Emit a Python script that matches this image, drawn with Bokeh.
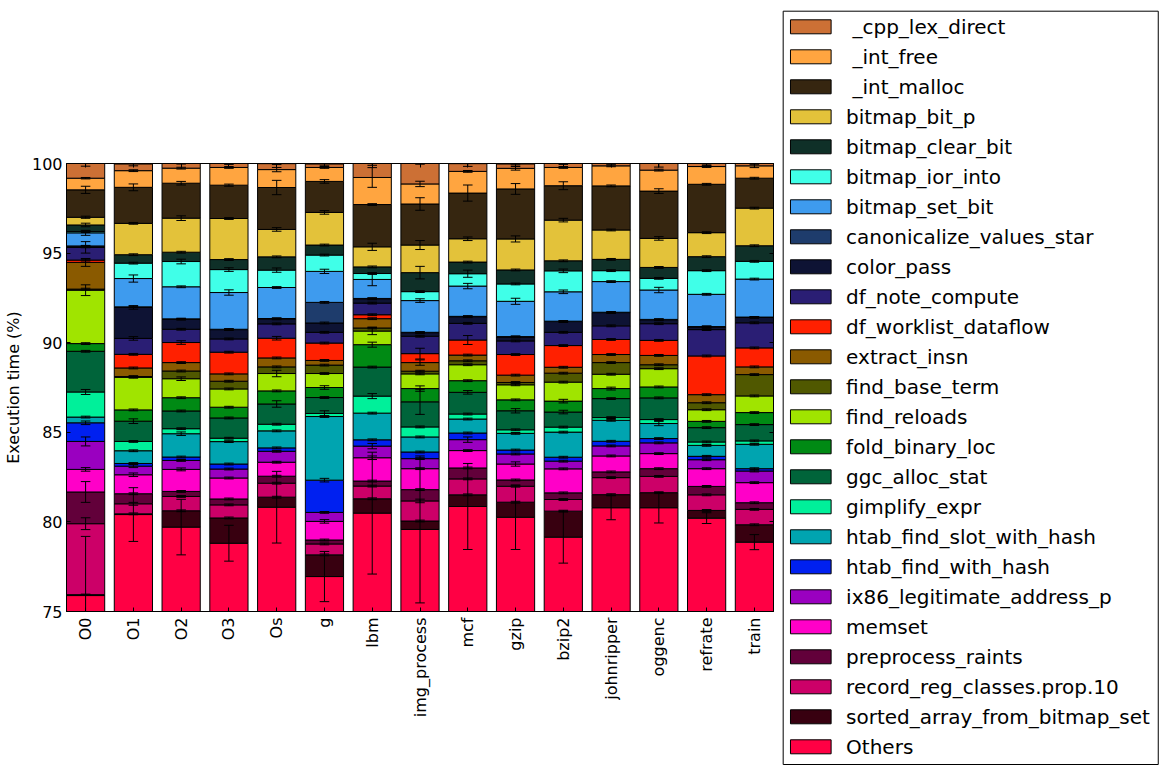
import math
import numpy as np
from bokeh.plotting import figure
from bokeh.models import Range1d, FixedTicker, LinearAxis, ColumnDataSource
from bokeh.embed import file_html
from bokeh.resources import INLINE
from bokeh.core.properties import value

# ---------------- data ----------------
benchmarks = ["O0", "O1", "O2", "O3", "Os", "g", "lbm", "img_process", "mcf",
              "gzip", "bzip2", "johnripper", "oggenc", "refrate", "train"]

# stacking order, bottom -> top
series_names = ["Others", "sorted_array_from_bitmap_set", "record_reg_classes.prop.10",
                "preprocess_raints", "memset", "ix86_legitimate_address_p",
                "htab_find_with_hash", "htab_find_slot_with_hash", "gimplify_expr",
                "ggc_alloc_stat", "fold_binary_loc", "find_reloads", "find_base_term",
                "extract_insn", "df_worklist_dataflow", "df_note_compute", "color_pass",
                "canonicalize_values_star", "bitmap_set_bit", "bitmap_ior_into",
                "bitmap_clear_bit", "bitmap_bit_p", " _int_malloc", " _int_free",
                " _cpp_lex_direct"]

others       = [75.89, 80.41, 79.71, 78.81, 80.82, 76.95, 80.49, 79.58, 80.86, 80.26, 79.15, 80.79, 80.79, 80.21, 78.87]
sorted_array = [0.05, 0.04, 0.91, 1.41, 0.56, 1.21, 0.80, 0.47, 0.65, 0.84, 1.45, 0.73, 0.84, 0.43, 0.97]
record_reg   = [3.96, 0.56, 0.80, 0.73, 0.78, 0.61, 0.71, 1.12, 0.89, 0.89, 0.65, 0.95, 0.91, 0.87, 0.86]
preprocess   = [1.77, 0.56, 0.28, 0.33, 0.39, 0.22, 0.28, 0.63, 0.61, 0.35, 0.37, 0.32, 0.43, 0.47, 0.37]
memset       = [1.26, 1.06, 1.23, 1.17, 0.78, 1.04, 1.30, 1.17, 0.97, 0.89, 1.34, 0.89, 0.84, 0.99, 1.12]
ix86         = [1.56, 0.48, 0.50, 0.50, 0.61, 0.50, 0.65, 0.56, 0.61, 0.56, 0.43, 0.56, 0.60, 0.50, 0.65]
htab_with    = [1.04, 0.15, 0.19, 0.28, 0.19, 1.80, 0.35, 0.37, 0.37, 0.22, 0.22, 0.26, 0.24, 0.19, 0.13]
htab_slot    = [0.32, 0.71, 1.30, 1.25, 0.95, 3.55, 1.49, 0.84, 0.78, 0.93, 1.40, 1.17, 0.84, 0.61, 1.36]
gimplify     = [1.40, 0.52, 0.28, 0.19, 0.37, 0.17, 0.95, 0.56, 0.28, 0.20, 0.28, 0.15, 0.22, 0.19, 0.19]
ggc_alloc    = [2.27, 1.13, 0.99, 1.13, 1.13, 0.89, 1.62, 1.40, 1.21, 1.06, 0.84, 1.06, 1.21, 0.80, 0.91]
fold_binary  = [0.43, 0.63, 0.74, 0.60, 0.73, 0.56, 1.25, 0.74, 0.65, 0.61, 0.61, 0.56, 0.61, 0.35, 0.67]
find_reloads = [2.98, 1.82, 1.06, 1.02, 0.97, 0.78, 0.76, 0.82, 0.89, 0.84, 1.06, 0.80, 1.02, 0.65, 0.93]
find_base    = [0.06, 0.04, 0.43, 0.43, 0.37, 0.47, 0.17, 0.15, 0.22, 0.13, 0.50, 0.65, 0.22, 0.39, 1.19]
extract_insn = [1.49, 0.48, 0.47, 0.41, 0.50, 0.26, 0.52, 0.48, 0.32, 0.41, 0.33, 0.45, 0.52, 0.45, 0.43]
df_worklist  = [0.13, 0.76, 1.12, 1.21, 1.10, 0.97, 0.22, 0.50, 0.84, 1.15, 1.21, 0.84, 0.84, 2.16, 1.06]
df_note      = [0.71, 0.89, 0.74, 0.74, 0.80, 0.60, 0.65, 0.97, 0.93, 0.76, 0.74, 0.76, 0.93, 1.47, 1.40]
color_pass   = [0.03, 1.73, 0.56, 0.52, 0.28, 0.52, 0.24, 0.20, 0.37, 0.22, 0.60, 0.74, 0.22, 0.15, 0.30]
canonicalize = [0.05, 0.03, 0.02, 0.02, 0.02, 1.15, 0.02, 0.02, 0.02, 0.02, 0.02, 0.02, 0.02, 0.02, 0.02]
set_bit      = [0.73, 1.58, 1.79, 2.05, 1.73, 1.73, 1.06, 1.77, 1.69, 1.97, 1.64, 1.71, 1.64, 1.80, 2.12]
ior_into     = [0.07, 0.86, 1.41, 1.28, 0.97, 0.91, 0.33, 0.50, 0.69, 0.97, 1.17, 0.61, 0.65, 1.32, 0.99]
clear_bit    = [0.37, 0.47, 0.52, 0.56, 0.74, 0.56, 0.37, 1.06, 0.65, 0.78, 0.56, 0.63, 0.61, 0.78, 0.87]
bit_p        = [0.43, 1.75, 1.90, 2.29, 1.53, 1.82, 1.12, 1.54, 1.30, 1.73, 2.27, 1.64, 1.62, 1.34, 2.10]
int_malloc   = [1.53, 2.01, 1.95, 1.86, 2.34, 1.73, 2.36, 2.29, 2.55, 2.79, 1.92, 2.46, 2.64, 2.70, 1.67]
int_free     = [0.65, 0.93, 0.84, 0.99, 1.00, 0.78, 1.51, 1.12, 1.21, 1.15, 1.02, 1.12, 1.17, 0.99, 0.69]
cpp_lex      = [0.84, 0.37, 0.28, 0.22, 0.33, 0.19, 0.78, 1.15, 0.43, 0.24, 0.22, 0.15, 0.37, 0.19, 0.15]

err_others       = [3.3, 1.5, 1.55, 1.0, 2.0, 1.4, 3.4, 4.1, 2.4, 1.8, 1.45, 0.67, 0.85, 0.3, 0.42]
err_sorted_array = [0.03, 0.05, 0.05, 0.05, 0.05, 0.05, 0.05, 0.05, 0.05, 0.05, 0.05, 0.05, 0.05, 0.05, 0.05]
err_record_reg   = [0.33, 0.08, 0.05, 0.05, 0.05, 0.05, 0.05, 0.1, 0.05, 0.05, 0.05, 0.05, 0.05, 0.05, 0.05]
err_preprocess   = [0.58, 0.05, 0.05, 0.05, 0.05, 0.05, 0.05, 0.05, 0.05, 0.05, 0.05, 0.05, 0.05, 0.05, 0.05]
err_memset       = [0.1, 0.1, 0.08, 0.05, 0.05, 0.1, 0.1, 0.05, 0.05, 0.12, 0.05, 0.05, 0.05, 0.05, 0.05]
err_ix86         = [0.25, 0.08, 0.05, 0.05, 0.05, 0.05, 0.15, 0.05, 0.15, 0.05, 0.05, 0.05, 0.05, 0.05, 0.05]
err_htab_with    = [0.1, 0.05, 0.05, 0.05, 0.05, 0.1, 0.05, 0.05, 0.05, 0.05, 0.05, 0.05, 0.05, 0.05, 0.05]
err_htab_slot    = [0.05, 0.05, 0.1, 0.05, 0.05, 0.05, 0.05, 0.05, 0.05, 0.05, 0.05, 0.05, 0.12, 0.05, 0.05]
err_gimplify     = [0.14, 0.05, 0.05, 0.05, 0.05, 0.15, 0.14, 0.05, 0.05, 0.05, 0.05, 0.05, 0.05, 0.05, 0.05]
err_ggc_alloc    = [0.05, 0.13, 0.05, 0.05, 0.18, 0.05, 0.05, 0.7, 0.1, 0.12, 0.1, 0.05, 0.05, 0.05, 0.05]
err_fold_binary  = [0.05, 0.05, 0.05, 0.05, 0.05, 0.1, 0.14, 0.15, 0.05, 0.05, 0.1, 0.08, 0.05, 0.05, 0.05]
err_find_reloads = [0.3, 0.05, 0.1, 0.05, 0.18, 0.05, 0.2, 0.05, 0.05, 0.05, 0.05, 0.05, 0.05, 0.05, 0.05]
err_find_base    = [0.05, 0.05, 0.05, 0.05, 0.05, 0.05, 0.05, 0.05, 0.05, 0.05, 0.05, 0.05, 0.05, 0.05, 0.05]
err_extract_insn = [0.22, 0.05, 0.05, 0.05, 0.05, 0.05, 0.05, 0.15, 0.05, 0.05, 0.05, 0.05, 0.05, 0.05, 0.05]
err_df_worklist  = [0.05, 0.05, 0.1, 0.05, 0.1, 0.05, 0.05, 0.3, 0.25, 0.05, 0.05, 0.05, 0.05, 0.05, 0.05]
err_df_note      = [0.32, 0.1, 0.05, 0.05, 0.05, 0.05, 0.05, 0.05, 0.05, 0.05, 0.05, 0.05, 0.05, 0.05, 0.05]
err_color_pass   = [0.05, 0.1, 0.05, 0.05, 0.05, 0.05, 0.05, 0.05, 0.05, 0.05, 0.05, 0.05, 0.05, 0.05, 0.05]
err_canonicalize = [0.03, 0.03, 0.03, 0.03, 0.03, 0.05, 0.03, 0.03, 0.03, 0.03, 0.03, 0.03, 0.03, 0.03, 0.03]
err_set_bit      = [0.14, 0.2, 0.05, 0.15, 0.05, 0.12, 0.35, 0.1, 0.15, 0.17, 0.1, 0.05, 0.15, 0.05, 0.05]
err_ior_into     = [0.05, 0.05, 0.13, 0.1, 0.12, 0.05, 0.05, 0.05, 0.2, 0.05, 0.1, 0.05, 0.05, 0.05, 0.05]
err_clear_bit    = [0.1, 0.05, 0.05, 0.05, 0.05, 0.05, 0.05, 0.35, 0.05, 0.05, 0.05, 0.05, 0.05, 0.05, 0.05]
err_bit_p        = [0.06, 0.05, 0.13, 0.05, 0.1, 0.1, 0.2, 0.25, 0.1, 0.17, 0.1, 0.05, 0.1, 0.05, 0.05]
err_int_malloc   = [0.2, 0.19, 0.1, 0.06, 0.4, 0.1, 0.05, 0.35, 0.45, 0.3, 0.22, 0.05, 0.13, 0.05, 0.05]
err_int_free     = [0.04, 0.05, 0.05, 0.05, 0.12, 0.05, 0.55, 0.15, 0.05, 0.1, 0.05, 0.05, 0.05, 0.05, 0.1]
err_cpp_lex      = [0.17, 0.1, 0.05, 0.05, 0.05, 0.1, 0.1, 0.05, 0.15, 0.05, 0.05, 0.05, 0.2, 0.1, 0.05]

series_values = [others, sorted_array, record_reg, preprocess, memset, ix86, htab_with,
                 htab_slot, gimplify, ggc_alloc, fold_binary, find_reloads, find_base,
                 extract_insn, df_worklist, df_note, color_pass, canonicalize, set_bit,
                 ior_into, clear_bit, bit_p, int_malloc, int_free, cpp_lex]
series_errors = [err_others, err_sorted_array, err_record_reg, err_preprocess, err_memset,
                 err_ix86, err_htab_with, err_htab_slot, err_gimplify, err_ggc_alloc,
                 err_fold_binary, err_find_reloads, err_find_base, err_extract_insn,
                 err_df_worklist, err_df_note, err_color_pass, err_canonicalize, err_set_bit,
                 err_ior_into, err_clear_bit, err_bit_p, err_int_malloc, err_int_free,
                 err_cpp_lex]
colors = ["#FF0044", "#380010", "#CC0068", "#62003A", "#FF00C8", "#9A00C0", "#0020F0",
          "#00A4B0", "#00F09A", "#00643A", "#008A14", "#A0E400", "#505800", "#8A5A00",
          "#FF2000", "#2A1E74", "#0E1334", "#1E3C6C", "#3E9BEE", "#40FFE8", "#0F3028",
          "#E3C23A", "#362610", "#FFA540", "#CC7035"]
y_ticks = [75, 80, 85, 90, 95, 100]

# ---------------- layout constants (pixels) ----------------
FONT = "DejaVu Sans"
W, H = 1167, 774
FL, FR, FT, FB = 65, 773, 163, 611  # frame edges in page pixels

n = len(benchmarks)
xs = np.arange(n, dtype=float)

p = figure(width=W, height=H,
           x_range=Range1d(-0.4, n - 0.6), y_range=Range1d(75, 100),
           output_backend="svg", toolbar_location=None,
           min_border_left=FL, min_border_right=W - FR, min_border_top=FT, min_border_bottom=H - FB,
           background_fill_color="white", border_fill_color="white")
p.outline_line_color = "black"
p.outline_line_width = 1
p.outline_line_alpha = 1
p.xgrid.visible = False
p.ygrid.visible = False
# pixel coordinate system for the legend drawn beside the frame
p.extra_x_ranges = {"px": Range1d(FL, FR)}
p.extra_y_ranges = {"py": Range1d(FB, FT)}

bottom = np.zeros(n)
tops = []
for name, vals, col in zip(series_names, series_values, colors):
    top = bottom + np.array(vals, dtype=float)
    src = ColumnDataSource(dict(x=xs, bottom=bottom.copy(), top=top))
    p.vbar(x="x", bottom="bottom", top="top", width=0.8, source=src,
           fill_color=col, line_color="black", line_width=1)
    tops.append(top)
    bottom = top

ex, elo, ehi = [], [], []
for top, err in zip(tops, series_errors):
    for i in range(n):
        ex.append(xs[i])
        elo.append(top[i] - err[i])
        ehi.append(top[i] + err[i])
ex = np.array(ex); elo = np.array(elo); ehi = np.array(ehi)
cap = 0.1
p.segment(x0=ex, y0=elo, x1=ex, y1=ehi, line_color="black", line_width=1)
p.segment(x0=ex - cap, y0=ehi, x1=ex + cap, y1=ehi, line_color="black", line_width=1)
p.segment(x0=ex - cap, y0=elo, x1=ex + cap, y1=elo, line_color="black", line_width=1)

def style_axis(ax):
    ax.major_tick_in = 4
    ax.major_tick_out = 0
    ax.minor_tick_line_color = None
    ax.major_tick_line_color = "black"
    ax.axis_line_color = "black"
    ax.major_label_text_font = FONT
    ax.major_label_text_color = "black"
    ax.axis_label_text_font = FONT
    ax.axis_label_text_color = "black"

xa = p.xaxis[0]
xa.ticker = FixedTicker(ticks=list(range(n)))
xa.major_label_overrides = {i: b for i, b in enumerate(benchmarks)}
xa.major_label_orientation = math.pi / 2
style_axis(xa)
xa.major_label_text_font_size = "16px"
xa.major_label_standoff = 6

ya = p.yaxis[0]
ya.ticker = FixedTicker(ticks=y_ticks)
style_axis(ya)
ya.major_label_text_font_size = "16px"
ya.major_label_standoff = 4
ya.axis_label = "Execution time (%)"
ya.axis_label_text_font_size = "16px"
ya.axis_label_text_font_style = "normal"
ya.axis_label_standoff = 6

top_ax = LinearAxis(ticker=FixedTicker(ticks=list(range(n))))
style_axis(top_ax)
top_ax.major_label_text_font_size = "0px"
top_ax.major_label_standoff = 0
top_ax.major_label_overrides = {i: "" for i in range(n)}
p.add_layout(top_ax, "above")

right_ax = LinearAxis(ticker=FixedTicker(ticks=y_ticks))
style_axis(right_ax)
right_ax.major_label_text_font_size = "0px"
right_ax.major_label_standoff = 0
right_ax.major_label_overrides = {t: "" for t in y_ticks}
p.add_layout(right_ax, "right")

# ---------------- legend (top entry = last stacked series) ----------------
LEG_FONT_PX = 20.0
leg_labels = list(reversed(series_names))
leg_colors = list(reversed(colors))
yc = 26.3 + 30.0 * np.arange(len(leg_labels))
# a leading blank in a label is rendered as an indent of one space width
leg_x = np.array([845.7 + (0.318 * LEG_FONT_PX if s.startswith(" ") else 0.0) for s in leg_labels])

p.quad(left=[782.7], right=[1158.3], top=[10.7], bottom=[764.0],
       fill_color="white", line_color="black", line_width=1,
       x_range_name="px", y_range_name="py", level="overlay")
p.quad(left=790.0, right=830.7, top=yc - 7, bottom=yc + 7,
       fill_color=leg_colors, line_color="black", line_width=1,
       x_range_name="px", y_range_name="py", level="overlay")
p.text(x=leg_x, y=yc, text=[s.strip() for s in leg_labels], text_baseline="middle",
       text_align="left", text_font=value(FONT), text_font_size=f"{LEG_FONT_PX}px",
       text_color="black", x_range_name="px", y_range_name="py", level="overlay")

open("out.html", "w").write(file_html(p, INLINE))
